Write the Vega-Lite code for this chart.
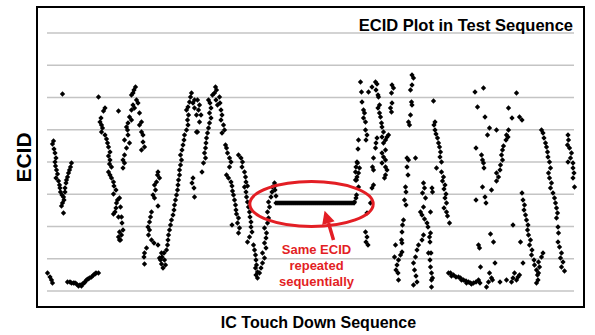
{
  "$schema": "https://vega.github.io/schema/vega-lite/v6.json",
  "width": 547,
  "height": 300,
  "autosize": {"type": "none"},
  "padding": {"left": 37, "top": 7, "right": 11, "bottom": 28},
  "background": "white",
  "config": {"font": "Liberation Sans", "view": {"stroke": "#000000", "strokeWidth": 2}},
  "datasets": {
    "grid": [{"x":0,"x2":1054,"y":0},{"x":0,"x2":1054,"y":32.25},{"x":0,"x2":1054,"y":64.5},{"x":0,"x2":1054,"y":96.75},{"x":0,"x2":1054,"y":129},{"x":0,"x2":1054,"y":161.25},{"x":0,"x2":1054,"y":193.5},{"x":0,"x2":1054,"y":225.75},{"x":0,"x2":1054,"y":258}],
    "pts": [
{"x":31,"y":197},{"x":103,"y":194},{"x":143,"y":180},
{"x":13,"y":150},{"x":11,"y":147},{"x":14,"y":142},{"x":16,"y":138},{"x":18,"y":133},{"x":16,"y":129},{"x":17,"y":125},{"x":19,"y":121},{"x":21,"y":117},{"x":18,"y":113},{"x":23,"y":110},{"x":25,"y":106},{"x":26,"y":103},{"x":27,"y":99},{"x":30,"y":96},{"x":33,"y":94},{"x":34,"y":91},{"x":31,"y":88},{"x":29,"y":85},{"x":33,"y":78},
{"x":49,"y":128},{"x":47,"y":124},{"x":45,"y":121},{"x":43,"y":118},{"x":41,"y":114},{"x":39,"y":111},{"x":38,"y":108},{"x":36,"y":103},{"x":36,"y":99},
{"x":1,"y":18},{"x":6,"y":14},{"x":9,"y":11},{"x":11,"y":8},
{"x":41,"y":9},{"x":46,"y":9},{"x":49,"y":8},{"x":53,"y":8},{"x":56,"y":8},{"x":59,"y":7},{"x":63,"y":5},{"x":66,"y":6},{"x":69,"y":5},{"x":71,"y":7},{"x":74,"y":8},{"x":76,"y":9},{"x":79,"y":11},{"x":82,"y":12},{"x":85,"y":13},{"x":89,"y":14},{"x":93,"y":16},{"x":96,"y":17},{"x":98,"y":18},{"x":103,"y":18},
{"x":116,"y":183},{"x":113,"y":180},{"x":108,"y":173},{"x":106,"y":169},{"x":109,"y":166},{"x":111,"y":163},{"x":109,"y":159},{"x":116,"y":156},{"x":119,"y":152},{"x":121,"y":148},{"x":123,"y":144},{"x":126,"y":139},{"x":123,"y":135},{"x":126,"y":131},{"x":125,"y":127},{"x":129,"y":124},{"x":123,"y":119},{"x":126,"y":116},{"x":129,"y":113},{"x":133,"y":109},{"x":134,"y":105},{"x":138,"y":101},{"x":133,"y":97},{"x":141,"y":91},{"x":139,"y":88},{"x":138,"y":83},{"x":136,"y":79},{"x":133,"y":77},{"x":143,"y":74},{"x":145,"y":59},{"x":143,"y":54},{"x":145,"y":51},
{"x":145,"y":93},{"x":147,"y":84},{"x":149,"y":74},{"x":150,"y":68},{"x":152,"y":61},{"x":149,"y":56},{"x":147,"y":51},
{"x":177,"y":204},{"x":174,"y":201},{"x":172,"y":198},{"x":169,"y":196},{"x":179,"y":191},{"x":182,"y":188},{"x":172,"y":186},{"x":175,"y":183},{"x":169,"y":181},{"x":185,"y":178},{"x":165,"y":174},{"x":169,"y":171},{"x":189,"y":169},{"x":185,"y":166},{"x":162,"y":168},{"x":159,"y":164},{"x":161,"y":161},{"x":189,"y":159},{"x":192,"y":156},{"x":162,"y":156},{"x":155,"y":151},{"x":192,"y":149},{"x":165,"y":148},{"x":195,"y":144},{"x":159,"y":143},{"x":189,"y":141},{"x":155,"y":136},{"x":152,"y":131},{"x":155,"y":128},{"x":152,"y":123},
{"x":222,"y":119},{"x":221,"y":116},{"x":225,"y":113},{"x":219,"y":109},{"x":215,"y":106},{"x":217,"y":101},{"x":212,"y":96},{"x":215,"y":93},{"x":222,"y":85},{"x":209,"y":79},{"x":207,"y":74},{"x":205,"y":69},{"x":202,"y":64},{"x":205,"y":61},{"x":203,"y":56},{"x":209,"y":51},{"x":214,"y":48},{"x":222,"y":46},{"x":199,"y":43},{"x":195,"y":38},{"x":194,"y":34},{"x":195,"y":27},
{"x":232,"y":23},{"x":229,"y":27},{"x":227,"y":31},{"x":230,"y":34},{"x":234,"y":38},{"x":239,"y":41},{"x":241,"y":46},{"x":242,"y":51},{"x":243,"y":56},{"x":245,"y":61},{"x":247,"y":66},{"x":249,"y":71},{"x":252,"y":76},{"x":254,"y":81},{"x":255,"y":86},{"x":257,"y":91},{"x":259,"y":96},{"x":261,"y":101},{"x":262,"y":106},{"x":263,"y":111},{"x":265,"y":116},{"x":265,"y":121},{"x":267,"y":126},{"x":269,"y":131},{"x":267,"y":136},{"x":270,"y":141},{"x":272,"y":146},{"x":274,"y":151},{"x":275,"y":156},{"x":279,"y":161},{"x":282,"y":166},{"x":281,"y":171},{"x":283,"y":176},{"x":279,"y":181},{"x":282,"y":184},{"x":285,"y":189},{"x":287,"y":194},{"x":289,"y":198},{"x":292,"y":188},{"x":295,"y":183},{"x":299,"y":176},{"x":295,"y":191},{"x":299,"y":159},
{"x":225,"y":33},{"x":235,"y":31},{"x":237,"y":26},{"x":229,"y":38},{"x":292,"y":113},{"x":290,"y":108},{"x":294,"y":103},{"x":295,"y":94},
{"x":301,"y":191},{"x":305,"y":186},{"x":303,"y":181},{"x":308,"y":176},{"x":305,"y":169},{"x":301,"y":159},
{"x":326,"y":188},{"x":328,"y":183},{"x":325,"y":178},{"x":328,"y":173},{"x":325,"y":168},{"x":323,"y":163},{"x":321,"y":158},{"x":319,"y":153},{"x":318,"y":148},{"x":317,"y":143},{"x":315,"y":138},{"x":317,"y":133},{"x":313,"y":128},{"x":310,"y":119},
{"x":337,"y":204},{"x":339,"y":201},{"x":335,"y":198},{"x":331,"y":196},{"x":345,"y":194},{"x":338,"y":191},{"x":323,"y":191},{"x":341,"y":186},{"x":346,"y":188},
{"x":348,"y":181},{"x":350,"y":176},{"x":348,"y":171},{"x":353,"y":166},{"x":355,"y":161},{"x":350,"y":158},{"x":357,"y":146},{"x":359,"y":143},{"x":361,"y":138},{"x":365,"y":133},{"x":368,"y":129},{"x":365,"y":124},{"x":359,"y":116},{"x":363,"y":113},{"x":368,"y":109},{"x":370,"y":105},{"x":371,"y":100},{"x":373,"y":96},{"x":375,"y":91},{"x":377,"y":86},{"x":378,"y":81},{"x":379,"y":77},{"x":383,"y":73},{"x":381,"y":68},{"x":370,"y":66},{"x":385,"y":63},{"x":383,"y":58},
{"x":383,"y":136},{"x":388,"y":133},{"x":391,"y":129},{"x":390,"y":124},{"x":395,"y":119},{"x":397,"y":114},{"x":398,"y":109},{"x":401,"y":105},{"x":395,"y":104},{"x":398,"y":99},{"x":399,"y":94},{"x":401,"y":89},{"x":403,"y":84},{"x":405,"y":79},{"x":406,"y":74},{"x":408,"y":69},{"x":408,"y":64},{"x":410,"y":59},{"x":405,"y":54},{"x":401,"y":49},
{"x":413,"y":46},{"x":415,"y":41},{"x":417,"y":36},{"x":418,"y":31},{"x":419,"y":26},{"x":417,"y":23},{"x":421,"y":19},{"x":418,"y":16},{"x":421,"y":13},{"x":425,"y":18},{"x":428,"y":23},{"x":431,"y":28},{"x":435,"y":33},{"x":431,"y":38},{"x":438,"y":43},{"x":435,"y":48},{"x":438,"y":53},{"x":439,"y":58},{"x":435,"y":63},{"x":441,"y":68},{"x":443,"y":73},{"x":441,"y":79},{"x":445,"y":84},{"x":443,"y":89},{"x":448,"y":94},{"x":450,"y":99},{"x":451,"y":104},{"x":455,"y":108},{"x":456,"y":101},{"x":458,"y":95},{"x":456,"y":105},
{"x":458,"y":88},{"x":462,"y":88},{"x":466,"y":88},{"x":470,"y":88},{"x":474,"y":88},{"x":478,"y":88},{"x":482,"y":88},{"x":486,"y":88},{"x":490,"y":88},{"x":494,"y":88},{"x":498,"y":88},{"x":502,"y":88},{"x":506,"y":88},{"x":510,"y":88},{"x":514,"y":88},{"x":518,"y":88},{"x":522,"y":88},{"x":526,"y":88},{"x":530,"y":88},{"x":534,"y":88},{"x":538,"y":88},{"x":542,"y":88},{"x":546,"y":88},{"x":550,"y":88},{"x":554,"y":88},{"x":558,"y":88},{"x":562,"y":88},{"x":566,"y":88},{"x":570,"y":88},{"x":574,"y":88},{"x":578,"y":88},{"x":582,"y":88},{"x":586,"y":88},{"x":590,"y":88},{"x":594,"y":88},{"x":598,"y":88},{"x":602,"y":88},{"x":606,"y":88},{"x":610,"y":88},{"x":614,"y":88},
{"x":615,"y":89},{"x":618,"y":93},{"x":619,"y":96},{"x":623,"y":104},{"x":619,"y":111},{"x":623,"y":118},{"x":625,"y":123},{"x":621,"y":128},
{"x":627,"y":209},{"x":629,"y":199},{"x":630,"y":189},{"x":633,"y":181},{"x":635,"y":178},{"x":633,"y":173},{"x":637,"y":169},{"x":637,"y":161},{"x":640,"y":156},{"x":638,"y":151},{"x":623,"y":151},{"x":622,"y":142},{"x":620,"y":129},{"x":618,"y":124},{"x":617,"y":119},{"x":620,"y":114},{"x":617,"y":111},
{"x":643,"y":199},{"x":650,"y":204},{"x":657,"y":209},{"x":660,"y":207},{"x":658,"y":201},{"x":662,"y":196},{"x":663,"y":194},{"x":665,"y":186},{"x":662,"y":183},{"x":665,"y":178},{"x":667,"y":174},{"x":669,"y":168},{"x":670,"y":164},{"x":673,"y":159},{"x":670,"y":154},{"x":660,"y":153},{"x":658,"y":148},{"x":657,"y":143},{"x":653,"y":133},{"x":651,"y":124},{"x":653,"y":121},{"x":650,"y":103},{"x":653,"y":106},{"x":647,"y":88},{"x":640,"y":78},{"x":637,"y":59},{"x":640,"y":54},{"x":638,"y":49},{"x":642,"y":46},
{"x":690,"y":206},{"x":693,"y":203},{"x":689,"y":198},{"x":690,"y":188},{"x":687,"y":183},{"x":689,"y":179},{"x":683,"y":156},{"x":680,"y":154},{"x":677,"y":151},{"x":673,"y":148},{"x":677,"y":141},{"x":670,"y":138},{"x":673,"y":134},{"x":677,"y":131},{"x":670,"y":128},{"x":677,"y":124},{"x":680,"y":121},{"x":677,"y":116},{"x":675,"y":113},
{"x":730,"y":216},{"x":733,"y":213},{"x":730,"y":206},{"x":727,"y":201},{"x":729,"y":189},{"x":730,"y":186},{"x":727,"y":176},{"x":723,"y":169},{"x":725,"y":166},{"x":720,"y":133},{"x":723,"y":131},{"x":737,"y":133},{"x":720,"y":124},{"x":722,"y":116},{"x":717,"y":104},{"x":718,"y":99},{"x":715,"y":91},{"x":718,"y":86},{"x":713,"y":71},{"x":711,"y":66},{"x":710,"y":59},{"x":709,"y":51},{"x":710,"y":48},{"x":697,"y":46},{"x":695,"y":34},{"x":703,"y":31},{"x":700,"y":26},{"x":698,"y":21},{"x":702,"y":18},{"x":703,"y":11},{"x":707,"y":36},{"x":710,"y":39},
{"x":753,"y":108},{"x":755,"y":103},{"x":751,"y":98},{"x":757,"y":93},{"x":753,"y":84},{"x":747,"y":79},{"x":750,"y":76},{"x":755,"y":72},{"x":760,"y":68},{"x":762,"y":64},{"x":753,"y":56},{"x":750,"y":51},{"x":743,"y":46},{"x":740,"y":41},{"x":737,"y":34},{"x":733,"y":28},{"x":735,"y":21},{"x":738,"y":15},{"x":740,"y":9},{"x":733,"y":6},{"x":770,"y":103},{"x":767,"y":79},{"x":765,"y":54},{"x":763,"y":38},{"x":767,"y":24},{"x":769,"y":11},
{"x":773,"y":190},
{"x":776,"y":169},{"x":774,"y":166},{"x":776,"y":161},{"x":778,"y":157},{"x":781,"y":153},{"x":783,"y":148},{"x":785,"y":144},{"x":787,"y":139},{"x":786,"y":134},{"x":789,"y":129},{"x":779,"y":123},{"x":789,"y":119},{"x":793,"y":114},{"x":791,"y":110},{"x":796,"y":106},{"x":794,"y":102},{"x":798,"y":97},{"x":796,"y":93},{"x":799,"y":88},{"x":794,"y":83},{"x":799,"y":79},{"x":801,"y":75},{"x":805,"y":68},{"x":771,"y":99},
{"x":767,"y":58},{"x":766,"y":49},{"x":768,"y":38},{"x":766,"y":31},{"x":769,"y":18},{"x":771,"y":13},{"x":769,"y":4},
{"x":803,"y":18},{"x":807,"y":18},{"x":809,"y":15},{"x":813,"y":16},{"x":818,"y":14},{"x":823,"y":14},{"x":827,"y":13},{"x":829,"y":11},{"x":833,"y":11},{"x":838,"y":10},{"x":839,"y":8},{"x":843,"y":9},{"x":847,"y":8},{"x":849,"y":7},{"x":853,"y":8},{"x":858,"y":9},{"x":863,"y":11},{"x":866,"y":8},
{"x":856,"y":199},{"x":873,"y":203},{"x":861,"y":184},{"x":876,"y":174},{"x":885,"y":163},{"x":881,"y":156},{"x":899,"y":161},{"x":923,"y":183},{"x":858,"y":143},{"x":869,"y":136},{"x":871,"y":131},{"x":873,"y":128},{"x":874,"y":123},{"x":871,"y":104},{"x":889,"y":101},{"x":858,"y":91},{"x":876,"y":94},{"x":878,"y":88},{"x":887,"y":57},{"x":893,"y":49},{"x":863,"y":46},{"x":865,"y":43},{"x":867,"y":24},{"x":885,"y":18},{"x":896,"y":28},{"x":889,"y":13},{"x":883,"y":9},{"x":879,"y":4},{"x":891,"y":11},{"x":906,"y":9},{"x":919,"y":11},
{"x":923,"y":161},{"x":919,"y":156},{"x":918,"y":151},{"x":913,"y":145},{"x":911,"y":141},{"x":909,"y":136},{"x":911,"y":131},{"x":907,"y":126},{"x":906,"y":121},{"x":899,"y":118},{"x":903,"y":114},{"x":899,"y":110},
{"x":939,"y":198},{"x":930,"y":173},{"x":945,"y":174},{"x":950,"y":171},{"x":922,"y":154},
{"x":989,"y":161},{"x":992,"y":158},{"x":994,"y":153},{"x":997,"y":148},{"x":999,"y":144},{"x":1001,"y":139},{"x":1002,"y":134},{"x":1005,"y":129},{"x":1007,"y":123},{"x":1003,"y":118},{"x":1005,"y":113},{"x":1009,"y":108},{"x":1007,"y":103},{"x":1012,"y":98},{"x":1015,"y":93},{"x":1017,"y":88},{"x":1019,"y":83},{"x":1021,"y":78},{"x":1019,"y":73},{"x":1022,"y":64},{"x":1023,"y":58},{"x":1022,"y":49},{"x":1025,"y":44},{"x":1029,"y":38},{"x":1027,"y":33},{"x":1032,"y":29},{"x":1029,"y":24},{"x":1035,"y":20},
{"x":1042,"y":156},{"x":1043,"y":151},{"x":1041,"y":146},{"x":1045,"y":143},{"x":1049,"y":138},{"x":1047,"y":133},{"x":1042,"y":129},{"x":1052,"y":128},{"x":1052,"y":123},{"x":1054,"y":118},{"x":1052,"y":113},{"x":1055,"y":104},
{"x":950,"y":98},{"x":952,"y":91},{"x":955,"y":86},{"x":954,"y":81},{"x":957,"y":76},{"x":959,"y":71},{"x":962,"y":66},{"x":961,"y":61},{"x":963,"y":56},{"x":967,"y":51},{"x":965,"y":46},{"x":970,"y":41},{"x":969,"y":36},{"x":974,"y":31},{"x":975,"y":26},{"x":979,"y":21},{"x":981,"y":16},{"x":982,"y":11},{"x":979,"y":8},{"x":983,"y":29},{"x":989,"y":34},{"x":992,"y":38},{"x":985,"y":24},{"x":983,"y":18},
{"x":932,"y":66},{"x":947,"y":49},{"x":952,"y":28},{"x":935,"y":18},{"x":932,"y":13},{"x":942,"y":14},{"x":939,"y":11},{"x":929,"y":9},{"x":945,"y":16}
    ],
    "ellipse": [{"x": 529, "y": 87}],
    "arrow": [{"x": 573, "y": 51, "x2": 563, "y2": 68}],
    "head": [{"x": 559, "y": 74}],
    "note": [{"x": 539, "y": 47, "label": "Same ECID\nrepeated\nsequentially"}],
    "ttl": [{"x": 1052, "y": 260.5, "label": "ECID Plot in Test Sequence"}]
  },
  "encoding": {
    "x": {"field": "x", "type": "quantitative", "scale": {"domain": [-20, 1074], "nice": false, "zero": false},
      "axis": {"title": "IC Touch Down Sequence", "labels": false, "ticks": false, "domain": false, "grid": false, "titleFontSize": 16, "titleFontWeight": "bold", "titleColor": "#000000", "titleX": 281, "titleY": 20, "titleBaseline": "alphabetic", "titleAlign": "center"}},
    "y": {"field": "y", "type": "quantitative", "scale": {"domain": [-16, 284], "nice": false, "zero": false},
      "axis": {"title": "ECID", "labels": false, "ticks": false, "domain": false, "grid": false, "titleFontSize": 21, "titleFontWeight": "bold", "titleColor": "#000000", "titleAngle": -90, "titleX": -7, "titleY": 150, "titleBaseline": "alphabetic", "titleAlign": "center"}}
  },
  "layer": [
    {"data": {"name": "grid"}, "mark": {"type": "rule", "color": "#c4c4c4", "strokeWidth": 1.5}, "encoding": {"x2": {"field": "x2"}}},
    {"data": {"name": "pts"}, "mark": {"type": "point", "shape": "diamond", "filled": true, "color": "#000000", "size": 28, "opacity": 1}},
    {"data": {"name": "ellipse"}, "mark": {"type": "point", "shape": "M -1 0 C -1 -0.2014 -0.5523 -0.3647 0 -0.3647 C 0.5523 -0.3647 1 -0.2014 1 0 C 1 0.2014 0.5523 0.3647 0 0.3647 C -0.5523 0.3647 -1 0.2014 -1 0 Z", "filled": false, "stroke": "#e31e24", "strokeWidth": 3, "size": 15228, "opacity": 1}},
    {"data": {"name": "arrow"}, "mark": {"type": "rule", "color": "#e31e24", "strokeWidth": 3.5}, "encoding": {"x2": {"field": "x2"}, "y2": {"field": "y2"}}},
    {"data": {"name": "head"}, "mark": {"type": "point", "shape": "M 0 -1 L 1 1 L -1 1 Z", "filled": true, "color": "#e31e24", "size": 169, "angle": 343, "opacity": 1}},
    {"data": {"name": "note"}, "mark": {"type": "text", "color": "#e31e24", "fontSize": 13, "fontWeight": "bold", "align": "center", "baseline": "top", "lineBreak": "\n", "lineHeight": 16}, "encoding": {"text": {"field": "label"}}},
    {"data": {"name": "ttl"}, "mark": {"type": "text", "color": "#000000", "fontSize": 16.5, "fontWeight": "bold", "align": "right", "baseline": "alphabetic"}, "encoding": {"text": {"field": "label"}}}
  ]
}
